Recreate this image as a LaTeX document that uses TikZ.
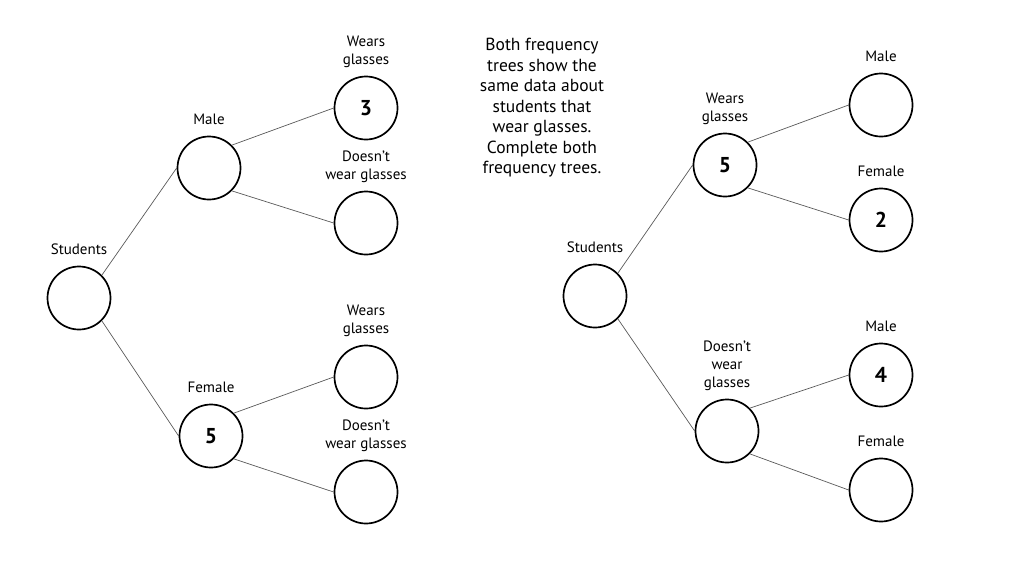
\documentclass[tikz,border=0pt]{standalone}
\usepackage{fontspec}
\setmainfont{PT Sans}
\usetikzlibrary{positioning}

\begin{document}
\begin{tikzpicture}[x=1pt,y=-1pt,node distance=10.5pt,
  ring/.style={draw,circle,line width=1.7pt,minimum size=63pt,inner sep=0pt,font=\fontsize{21.5}{21.5}\selectfont\bfseries},
  lbl/.style={align=center,inner sep=0pt,text depth=0pt,font=\fontsize{15}{18}\selectfont},
  branch/.style={draw=black!65,line width=0.7pt}]
\useasboundingbox (0,0) rectangle (1024,576);
% left tree
\node[ring] (s1) at (79,298) {};
\node[ring] (m1) at (209,168) {};
\node[ring] (f1) at (211,436) {5};
\node[ring] (w1) at (366,108) {3};
\node[ring] (d1) at (366,223) {};
\node[ring] (w2) at (366,377) {};
\node[ring] (d2) at (366,492) {};
\node[lbl,above=of s1] (s1t) {Students};
\node[lbl,above=of m1] (m1t) {Male};
\node[lbl,above=of f1] (f1t) {Female};
\node[lbl,above=of w1] (w1t) {Wears\\glasses};
\node[lbl,above=of d1] (d1t) {Doesn't\\wear glasses};
\node[lbl,above=of w2] (w2t) {Wears\\glasses};
\node[lbl,above=of d2] (d2t) {Doesn't\\wear glasses};
\draw[branch] (s1.north east) -- (m1.west);
\draw[branch] (s1.south east) -- (f1.west);
\draw[branch] (m1.north east) -- (w1.west);
\draw[branch] (m1.south east) -- (d1.west);
\draw[branch] (f1.north east) -- (w2.west);
\draw[branch] (f1.south east) -- (d2.west);
% instructions
\node[align=center,font=\fontsize{17.5}{20.5}\selectfont] (note) at (542,108) {Both frequency\\trees show the\\same data about\\students that\\wear glasses.\\Complete both\\frequency trees.};
% right tree
\node[ring] (s2) at (595,296) {};
\node[ring] (w3) at (725,165) {5};
\node[ring] (d3) at (727,431) {};
\node[ring] (m3) at (881,105) {};
\node[ring] (f3) at (881,220) {2};
\node[ring] (m4) at (881,375) {4};
\node[ring] (f4) at (881,490) {};
\node[lbl,above=of s2] (s2t) {Students};
\node[lbl,above=of w3] (w3t) {Wears\\glasses};
\node[lbl,above=of d3] (d3t) {Doesn't\\wear\\glasses};
\node[lbl,above=of m3] (m3t) {Male};
\node[lbl,above=of f3] (f3t) {Female};
\node[lbl,above=of m4] (m4t) {Male};
\node[lbl,above=of f4] (f4t) {Female};
\draw[branch] (s2.north east) -- (w3.west);
\draw[branch] (s2.south east) -- (d3.west);
\draw[branch] (w3.north east) -- (m3.west);
\draw[branch] (w3.south east) -- (f3.west);
\draw[branch] (d3.north east) -- (m4.west);
\draw[branch] (d3.south east) -- (f4.west);
\end{tikzpicture}
\end{document}
